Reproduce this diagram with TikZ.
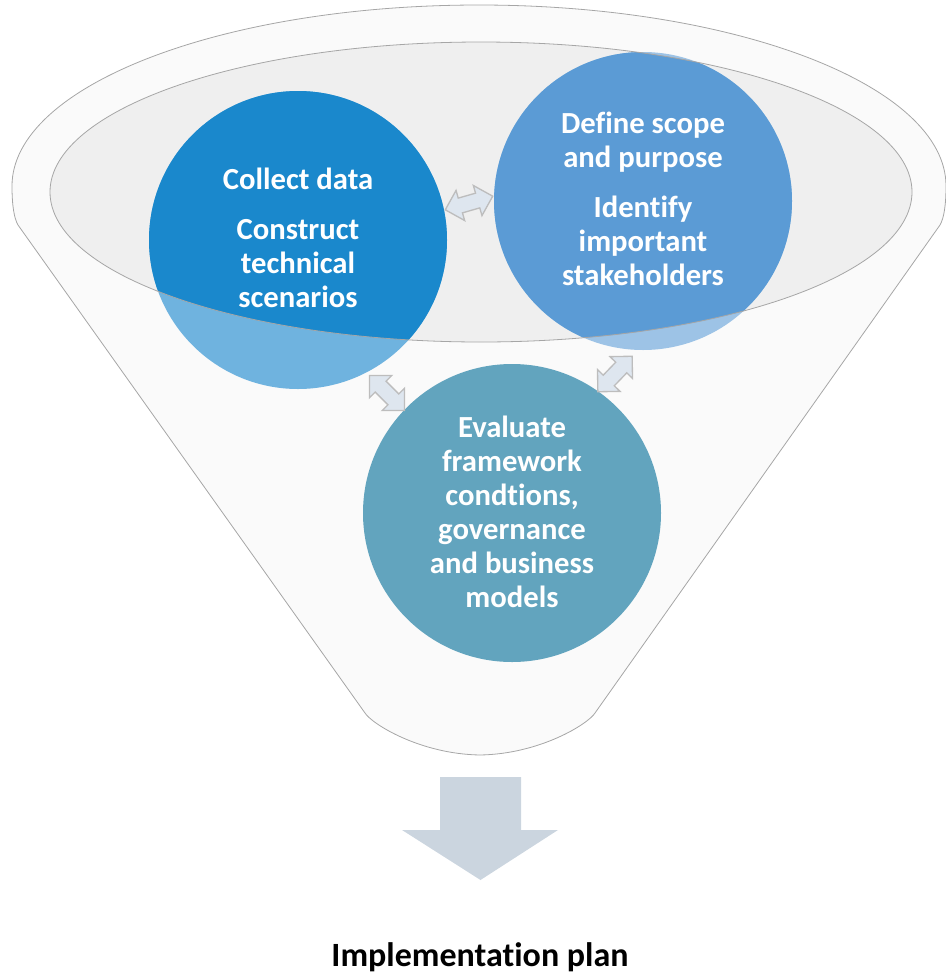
\documentclass[tikz,border=0pt]{standalone}
\usepackage{fontspec}
\setmainfont{Carlito}[Ligatures={NoCommon,NoRequired,NoContextual}, Contextuals=NoAlternate]
\usetikzlibrary{shapes.arrows}
\definecolor{collectblue}{HTML}{1A88CC}
\definecolor{collectlight}{HTML}{6FB3DF}
\definecolor{defineblue}{HTML}{5B9BD5}
\definecolor{definelight}{HTML}{9DC3E6}
\definecolor{evalteal}{HTML}{62A4BE}
\definecolor{rimgray}{HTML}{A6A6A6}
\definecolor{bodywhite}{HTML}{FAFAFA}
\definecolor{mouthgray}{HTML}{EFEFEF}
\definecolor{swapfill}{HTML}{DEE6EF}
\definecolor{swapedge}{HTML}{BDBDBD}
\definecolor{downfill}{HTML}{CBD5DF}
\tikzset{x=0.75pt, y=-0.75pt,
bubble/.style={
circle,
inner sep=0pt,
minimum size=223.5pt},
bubble text/.style={
text=white,
align=center,
font=\bfseries\fontsize{23}{25.5}\selectfont},
swap arrow/.style={
double arrow,
draw=swapedge,
fill=swapfill,
line width=1pt,
inner xsep=0pt,
inner ysep=5.25pt,
minimum height=37pt,
double arrow head extend=6pt},
rim/.style={
draw=rimgray,
line width=0.6pt}}

\begin{document}
\begin{tikzpicture}
\useasboundingbox (0,0) rectangle (946,975);
\path[rim, fill=bodywhite] (18,225) .. controls (14,218) and (12,205) .. (12,186)
  arc[start angle=180, end angle=360, x radius=467, y radius=181]
  .. controls (946,205) and (944,218) .. (940,225) -- (595,713)
  .. controls (588,724) and (540,754) .. (480,755)
  .. controls (420,754) and (372,724) .. (365,713) -- cycle;
\fill[mouthgray] (481,192) ellipse[x radius=431, y radius=150];
\node[bubble, fill=collectlight] (collect) at (298,240) {};
\node[bubble, fill=definelight] (define) at (643,201) {};
\node[bubble, fill=evalteal] (evaluate) at (512,513) {};
\begin{scope}
\clip (481,192) ellipse[x radius=431, y radius=150];
\fill[collectblue] (collect) circle[radius=149];
\fill[defineblue] (define) circle[radius=149];
\end{scope}
\draw[rim] (481,192) ellipse[x radius=431, y radius=150];
\node[bubble text] at ([yshift=1.5pt]collect) {Collect data\\[12pt]Construct\\technical\\scenarios};
\node[bubble text] at ([yshift=1.5pt]define) {Define scope\\and purpose\\[12pt]Identify\\important\\stakeholders};
\node[bubble text] at ([yshift=1pt]evaluate) {Evaluate\\framework\\condtions,\\governance\\and business\\models};
\node[swap arrow, rotate=16] (cd) at (469,203) {};
\node[swap arrow, rotate=-45] (ce) at (387,393) {};
\node[swap arrow, rotate=46] (de) at (615,374) {};
\fill[downfill] (440,777) -- (521,777) -- (521,830) -- (558,830) -- (480.5,880) -- (402,830) -- (440,830) -- cycle;
\node[anchor=base, font=\bfseries\fontsize{25.5}{30}\selectfont] (plan) at (480,966) {Implementation plan};
\end{tikzpicture}
\end{document}
